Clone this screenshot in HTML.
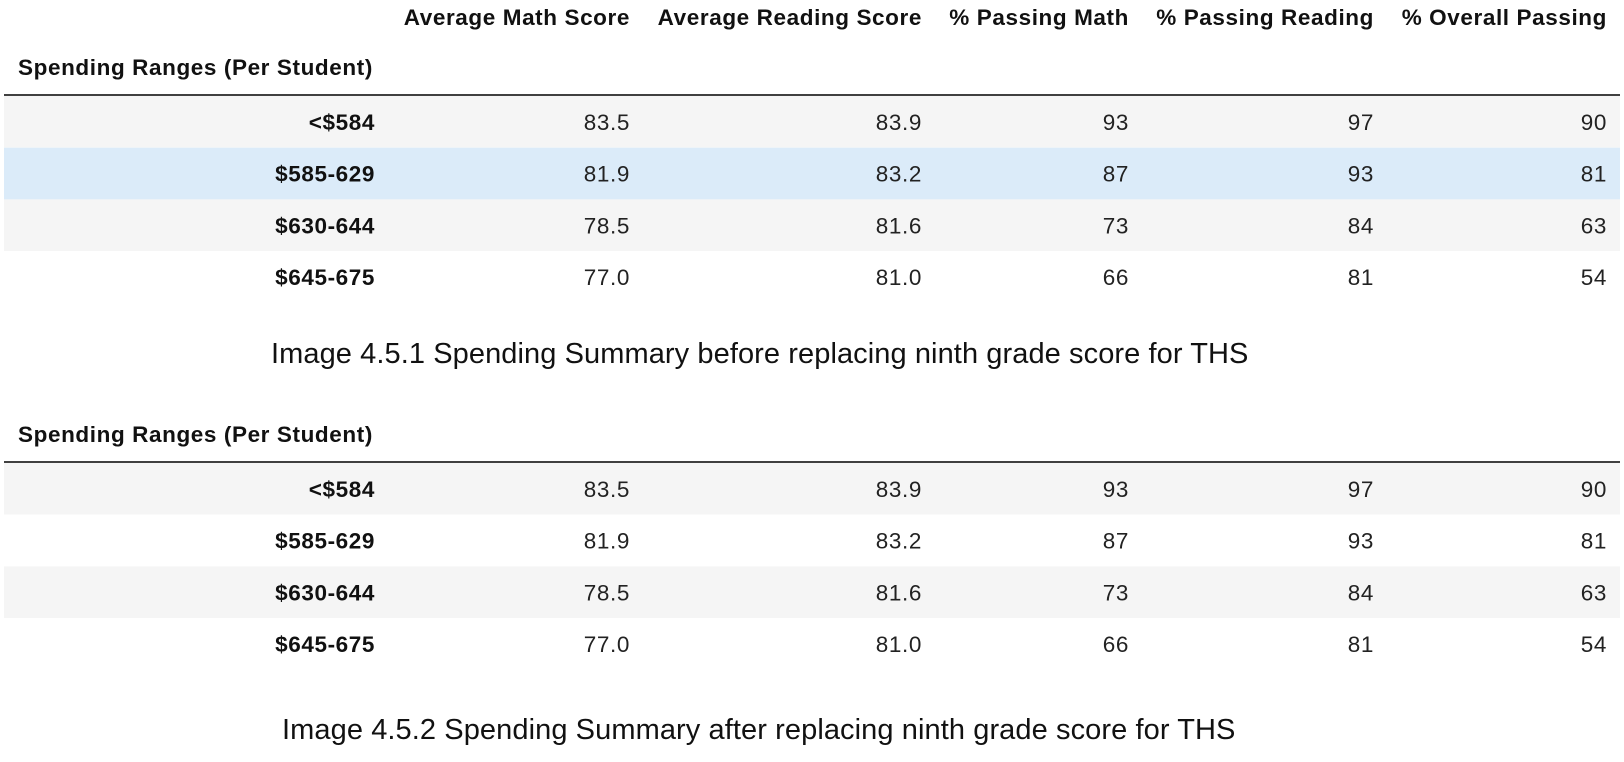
<!DOCTYPE html>
<html><head><meta charset="utf-8">
<style>
html,body{margin:0;padding:0;background:#fff;}
svg{display:block;font-family:"Liberation Sans",Arial,sans-serif;}
</style></head>
<body>
<svg id="chart" width="1624" height="762" viewBox="0 0 1624 762"></svg>
<script>
const columns = ["Average Math Score","Average Reading Score","% Passing Math","% Passing Reading","% Overall Passing"];
const categories = ["<$584","$585-629","$630-644","$645-675"];
const mathBefore = ["83.5","81.9","78.5","77.0"];
const readingBefore = ["83.9","83.2","81.6","81.0"];
const passMathBefore = ["93","87","73","66"];
const passReadingBefore = ["97","93","84","81"];
const overallBefore = ["90","81","63","54"];
const mathAfter = ["83.5","81.9","78.5","77.0"];
const readingAfter = ["83.9","83.2","81.6","81.0"];
const passMathAfter = ["93","87","73","66"];
const passReadingAfter = ["97","93","84","81"];
const overallAfter = ["90","81","63","54"];
const captions = ["Image 4.5.1 Spending Summary before replacing ninth grade score for THS","Image 4.5.2 Spending Summary after replacing ninth grade score for THS"];

const NS="http://www.w3.org/2000/svg";
const svg=document.getElementById('chart');
const colRight=[630,922,1129,1374,1607];
const labelRight=375;
const tableLeft=4, tableRight=1620, rowH=51.7;
const FS=22.5;
function el(tag,attrs,parent){const e=document.createElementNS(NS,tag);for(const k in attrs)e.setAttribute(k,attrs[k]);(parent||svg).appendChild(e);return e;}
function txt(s,x,y,anchor,size,weight,fill,parent){const t=el('text',{x:x,y:y,'text-anchor':anchor,'font-size':size,'font-weight':weight,fill:fill,'letter-spacing':'0.6'},parent);t.textContent=s;return t;}

const hg=el('g',{});


columns.forEach((c,i)=>{
  const t=txt(c,colRight[i],25,'end',FS,'bold','#111',hg);
  
  
});

function drawTable(idx,headerY,lineY,series,highlight){
  const g=el('g',{});
  
  
  const h=txt('Spending Ranges (Per Student)',18,headerY,'start',FS,'bold','#111',g);
  
  
  categories.forEach((cat,r)=>{
    const y0=lineY+1+r*rowH;
    let fill = r%2===0 ? '#f5f5f5' : '#ffffff';
    if(highlight===r) fill='#dbebf9';
    const rect=el('rect',{x:tableLeft,y:y0,width:tableRight-tableLeft,height:rowH,fill:fill},g);
    
    
    const ty=y0+rowH/2+8;
    const l=txt(cat,labelRight,ty,'end',FS,'bold','#111',g);
    
    
    series.forEach((s,i)=>{
      const v=txt(s[r],colRight[i],ty,'end',FS,'normal','#222',g);
      
      
    });
  });
  const ln=el('line',{x1:tableLeft,x2:tableRight,y1:lineY,y2:lineY,stroke:'#000','stroke-width':1.5},g);
  
  
}
drawTable(0,75,95,[mathBefore,readingBefore,passMathBefore,passReadingBefore,overallBefore],1);
drawTable(1,442,462,[mathAfter,readingAfter,passMathAfter,passReadingAfter,overallAfter],-1);

const c1=txt(captions[0],271,363,'start',29,'normal','#111');
c1.setAttribute('textLength','978');


const c2=txt(captions[1],282,739,'start',29,'normal','#111');
c2.setAttribute('textLength','954');


</script>
</body></html>
